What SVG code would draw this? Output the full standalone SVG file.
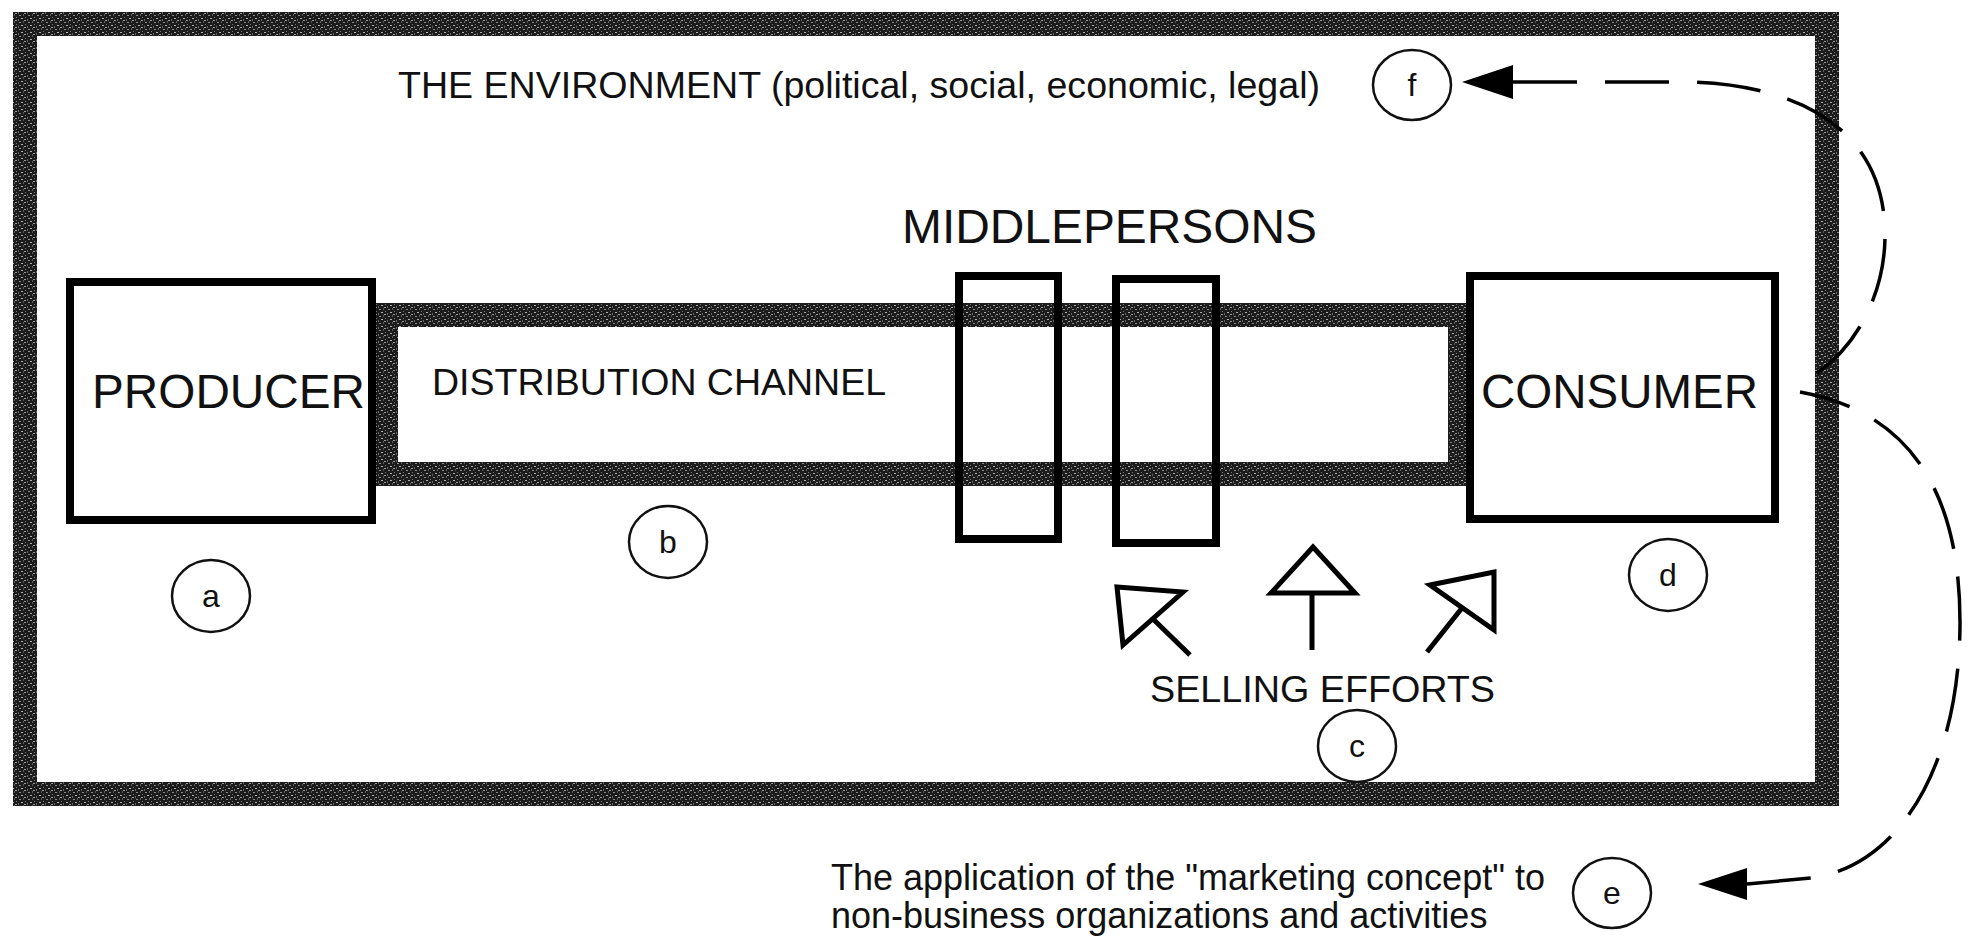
<svg xmlns="http://www.w3.org/2000/svg" width="1968" height="936" viewBox="0 0 1968 936">
<defs>
<pattern id="grain" width="9" height="7" patternUnits="userSpaceOnUse">
<rect width="9" height="7" fill="#1c1c1c"/>
<rect x="1" y="1" width="2" height="1" fill="#8a8a8a"/>
<rect x="5" y="0" width="1" height="2" fill="#5a5a5a"/>
<rect x="3" y="4" width="2" height="1" fill="#b0b0b0"/>
<rect x="7" y="3" width="1" height="1" fill="#777"/>
<rect x="0" y="5" width="1" height="2" fill="#666"/>
<rect x="6" y="6" width="2" height="1" fill="#9a9a9a"/>
</pattern>
</defs>
<style>
.t{font-family:"Liberation Sans",Arial,Helvetica,sans-serif;fill:#111}
.box{fill:#fff;stroke:#000;stroke-width:8}
.mid{fill:none;stroke:#000;stroke-width:8}
.tex{fill:none;stroke:url(#grain);stroke-width:24}
.circ{fill:#fff;stroke:#111;stroke-width:2.5}
.sell{fill:none;stroke:#000;stroke-width:5;stroke-linejoin:miter}
.dash{fill:none;stroke:#000;stroke-width:3.5;stroke-dasharray:64 28}
.head{fill:#000}
</style>
<rect width="1968" height="936" fill="#fff"/>
<g id="environment">
<rect x="25" y="24" width="1802" height="770" class="tex"/>
<text class="t" x="398" y="98" font-size="37.5" textLength="922" lengthAdjust="spacingAndGlyphs">THE ENVIRONMENT (political, social, economic, legal)</text>
</g>
<g id="channel">
<rect x="386" y="315" width="1074" height="159" class="tex"/>
<text class="t" x="432" y="395" font-size="36.5" textLength="454" lengthAdjust="spacingAndGlyphs">DISTRIBUTION CHANNEL</text>
</g>
<g id="producer">
<rect x="70" y="282" width="302" height="238" class="box"/>
<text class="t" x="92" y="408" font-size="47.5" textLength="273" lengthAdjust="spacingAndGlyphs">PRODUCER</text>
</g>
<g id="consumer">
<rect x="1470" y="276" width="305" height="243" class="box"/>
<text class="t" x="1481" y="408" font-size="47.5" textLength="277" lengthAdjust="spacingAndGlyphs">CONSUMER</text>
</g>
<g id="middlepersons">
<text class="t" x="902" y="243" font-size="47.5" textLength="415" lengthAdjust="spacingAndGlyphs">MIDDLEPERSONS</text>
<rect x="959" y="276" width="99" height="263" class="mid"/>
<rect x="1116" y="279" width="100" height="264" class="mid"/>
</g>
<g id="selling-efforts">
<path class="sell" d="M1117,587 L1183,592 L1123,645 Z M1153,619 L1190,655"/>
<path class="sell" d="M1313,547 L1355,593 L1271,593 Z M1312,593 L1312,650"/>
<path class="sell" d="M1430,585 L1494,572 L1494,630 Z M1462,608 L1427,652"/>
<text class="t" x="1150" y="702" font-size="37.5" textLength="345" lengthAdjust="spacingAndGlyphs">SELLING EFFORTS</text>
</g>
<g id="label-a"><ellipse cx="211" cy="596" rx="39" ry="36" class="circ"/><text class="t" x="211" y="607" font-size="32" text-anchor="middle">a</text></g>
<g id="label-b"><ellipse cx="668" cy="542" rx="39" ry="36" class="circ"/><text class="t" x="668" y="553" font-size="32" text-anchor="middle">b</text></g>
<g id="label-c"><ellipse cx="1357" cy="746" rx="39" ry="36" class="circ"/><text class="t" x="1357" y="757" font-size="32" text-anchor="middle">c</text></g>
<g id="label-d"><ellipse cx="1668" cy="575" rx="39" ry="36" class="circ"/><text class="t" x="1668" y="586" font-size="32" text-anchor="middle">d</text></g>
<g id="label-e"><ellipse cx="1612" cy="893" rx="39" ry="35" class="circ"/><text class="t" x="1612" y="904" font-size="32" text-anchor="middle">e</text></g>
<g id="label-f"><ellipse cx="1412" cy="85" rx="39" ry="35" class="circ"/><text class="t" x="1412" y="96" font-size="32" text-anchor="middle">f</text></g>
<g id="application">
<text class="t" font-size="36"><tspan x="831" y="890">The application of the "marketing concept" to</tspan><tspan x="831" y="928">non-business organizations and activities</tspan></text>
</g>
<g id="connectors">
<path class="dash" d="M1513,82 L1690,82 C1800,85 1885,130 1885,235 C1885,300 1850,360 1798,384"/>
<path class="head" d="M1462,82 L1513,65 L1513,99 Z"/>
<path class="dash" d="M1747,884 L1811,878 C1900,866 1960,765 1960,622 C1960,480 1900,410 1800,392"/>
<path class="head" d="M1698,884 L1747,868 L1747,900 Z"/>
</g>
</svg>
